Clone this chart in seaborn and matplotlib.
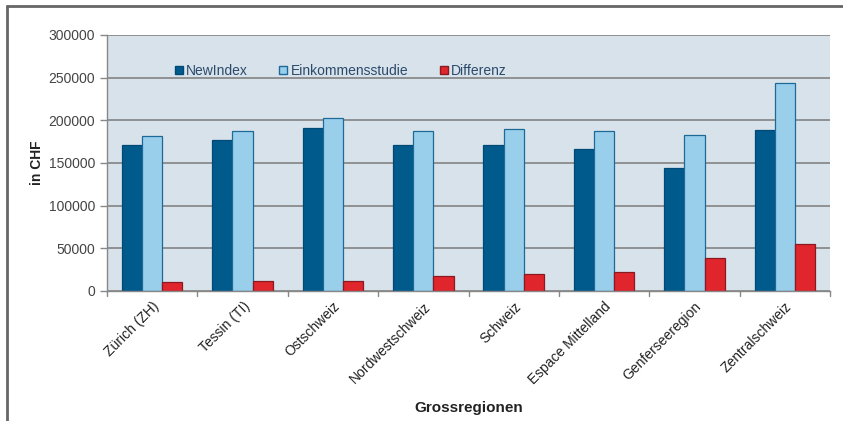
import matplotlib
matplotlib.use("Agg")
import matplotlib.pyplot as plt
import seaborn as sns
import pandas as pd
from matplotlib.lines import Line2D

regions = ["Zürich (ZH)", "Tessin (TI)", "Ostschweiz", "Nordwestschweiz",
           "Schweiz", "Espace Mittelland", "Genferseeregion", "Zentralschweiz"]
newindex = [171000, 177000, 191000, 171000, 171000, 166500, 144000, 189000]
einkommen = [182000, 187000, 203000, 187000, 190000, 187000, 182500, 244000]
differenz = [10000, 11500, 12000, 17500, 20500, 22000, 38500, 55000]
series = ["NewIndex", "Einkommensstudie", "Differenz"]
yticks = [0, 50000, 100000, 150000, 200000, 250000, 300000]

rows = []
for i, r in enumerate(regions):
    rows.append((r, series[0], newindex[i]))
    rows.append((r, series[1], einkommen[i]))
    rows.append((r, series[2], differenz[i]))
df = pd.DataFrame(rows, columns=["Region", "Serie", "Wert"])

sns.set_theme(style="white")
plt.rcParams['font.family'] = ['Liberation Sans', 'DejaVu Sans']

fig = plt.figure(figsize=(8.43, 4.21), dpi=100)
ax = fig.add_axes([107/843, 1-291/421, (830-107)/843, (291-35)/421])

colors = {"NewIndex": "#005a8c", "Einkommensstudie": "#9acfec", "Differenz": "#e0252d"}
edges = ["#004a75", "#1d6a98", "#8a1a1f"]
sns.barplot(data=df, x="Region", y="Wert", hue="Serie", order=regions,
            hue_order=series, palette=colors, width=0.67, gap=0,
            ax=ax, legend=False, saturation=1)
for cont, ec in zip(ax.containers, edges):
    for p in cont:
        p.set_edgecolor(ec)
        p.set_linewidth(0.9)

ax.set_facecolor("#d7e2eb")
ax.set_ylim(0, 300000)
ax.set_xlim(-0.5, len(regions) - 0.5)
ax.set_yticks(yticks)
ax.set_yticklabels([str(v) for v in yticks], fontsize=10, color="#444444")
ax.yaxis.grid(True, color="#8a8a8a", linewidth=1.3)
ax.set_axisbelow(True)
ax.tick_params(axis='y', length=5, width=1, color="#888888", direction='out', left=True)

ax.set_xticks(range(len(regions)))
ax.set_xticklabels(regions, rotation=45, ha='right', rotation_mode='anchor',
                   fontsize=10, color="#222222")
ax.tick_params(axis='x', length=0, pad=6)
for k in range(len(regions) + 1):
    ax.plot([k - 0.5, k - 0.5], [0, -0.018], transform=ax.get_xaxis_transform(),
            color="#888888", lw=1, clip_on=False)

for s in ["top", "right"]:
    ax.spines[s].set_visible(False)
for s in ["left", "bottom"]:
    ax.spines[s].set_color("#888888")
    ax.spines[s].set_linewidth(1)

ax.set_ylabel("in CHF", fontsize=10, fontweight='bold', color="#222222", labelpad=3)
ax.set_xlabel("Grossregionen", fontsize=11, fontweight='bold', color="#222222", labelpad=2)
ax.xaxis.set_label_coords(0.5, -0.43)

handles = [Line2D([0], [0], marker='s', linestyle='none', markersize=6,
                  markerfacecolor=colors[s], markeredgecolor=e)
           for s, e in zip(series, edges)]
leg = ax.legend(handles, series, ncol=3, frameon=False, loc='center left',
                bbox_to_anchor=(0.074, 0.86), fontsize=10, handletextpad=0.1,
                columnspacing=2.2, handlelength=0.8)
for t in leg.get_texts():
    t.set_color("#2b4a6b")

fig.add_artist(Line2D([7/843, 7/843], [0, 1-6/421], color="#666666", lw=2))
fig.add_artist(Line2D([7/843, 1], [1-6/421, 1-6/421], color="#666666", lw=2))

fig.savefig("out.png", dpi=100)
